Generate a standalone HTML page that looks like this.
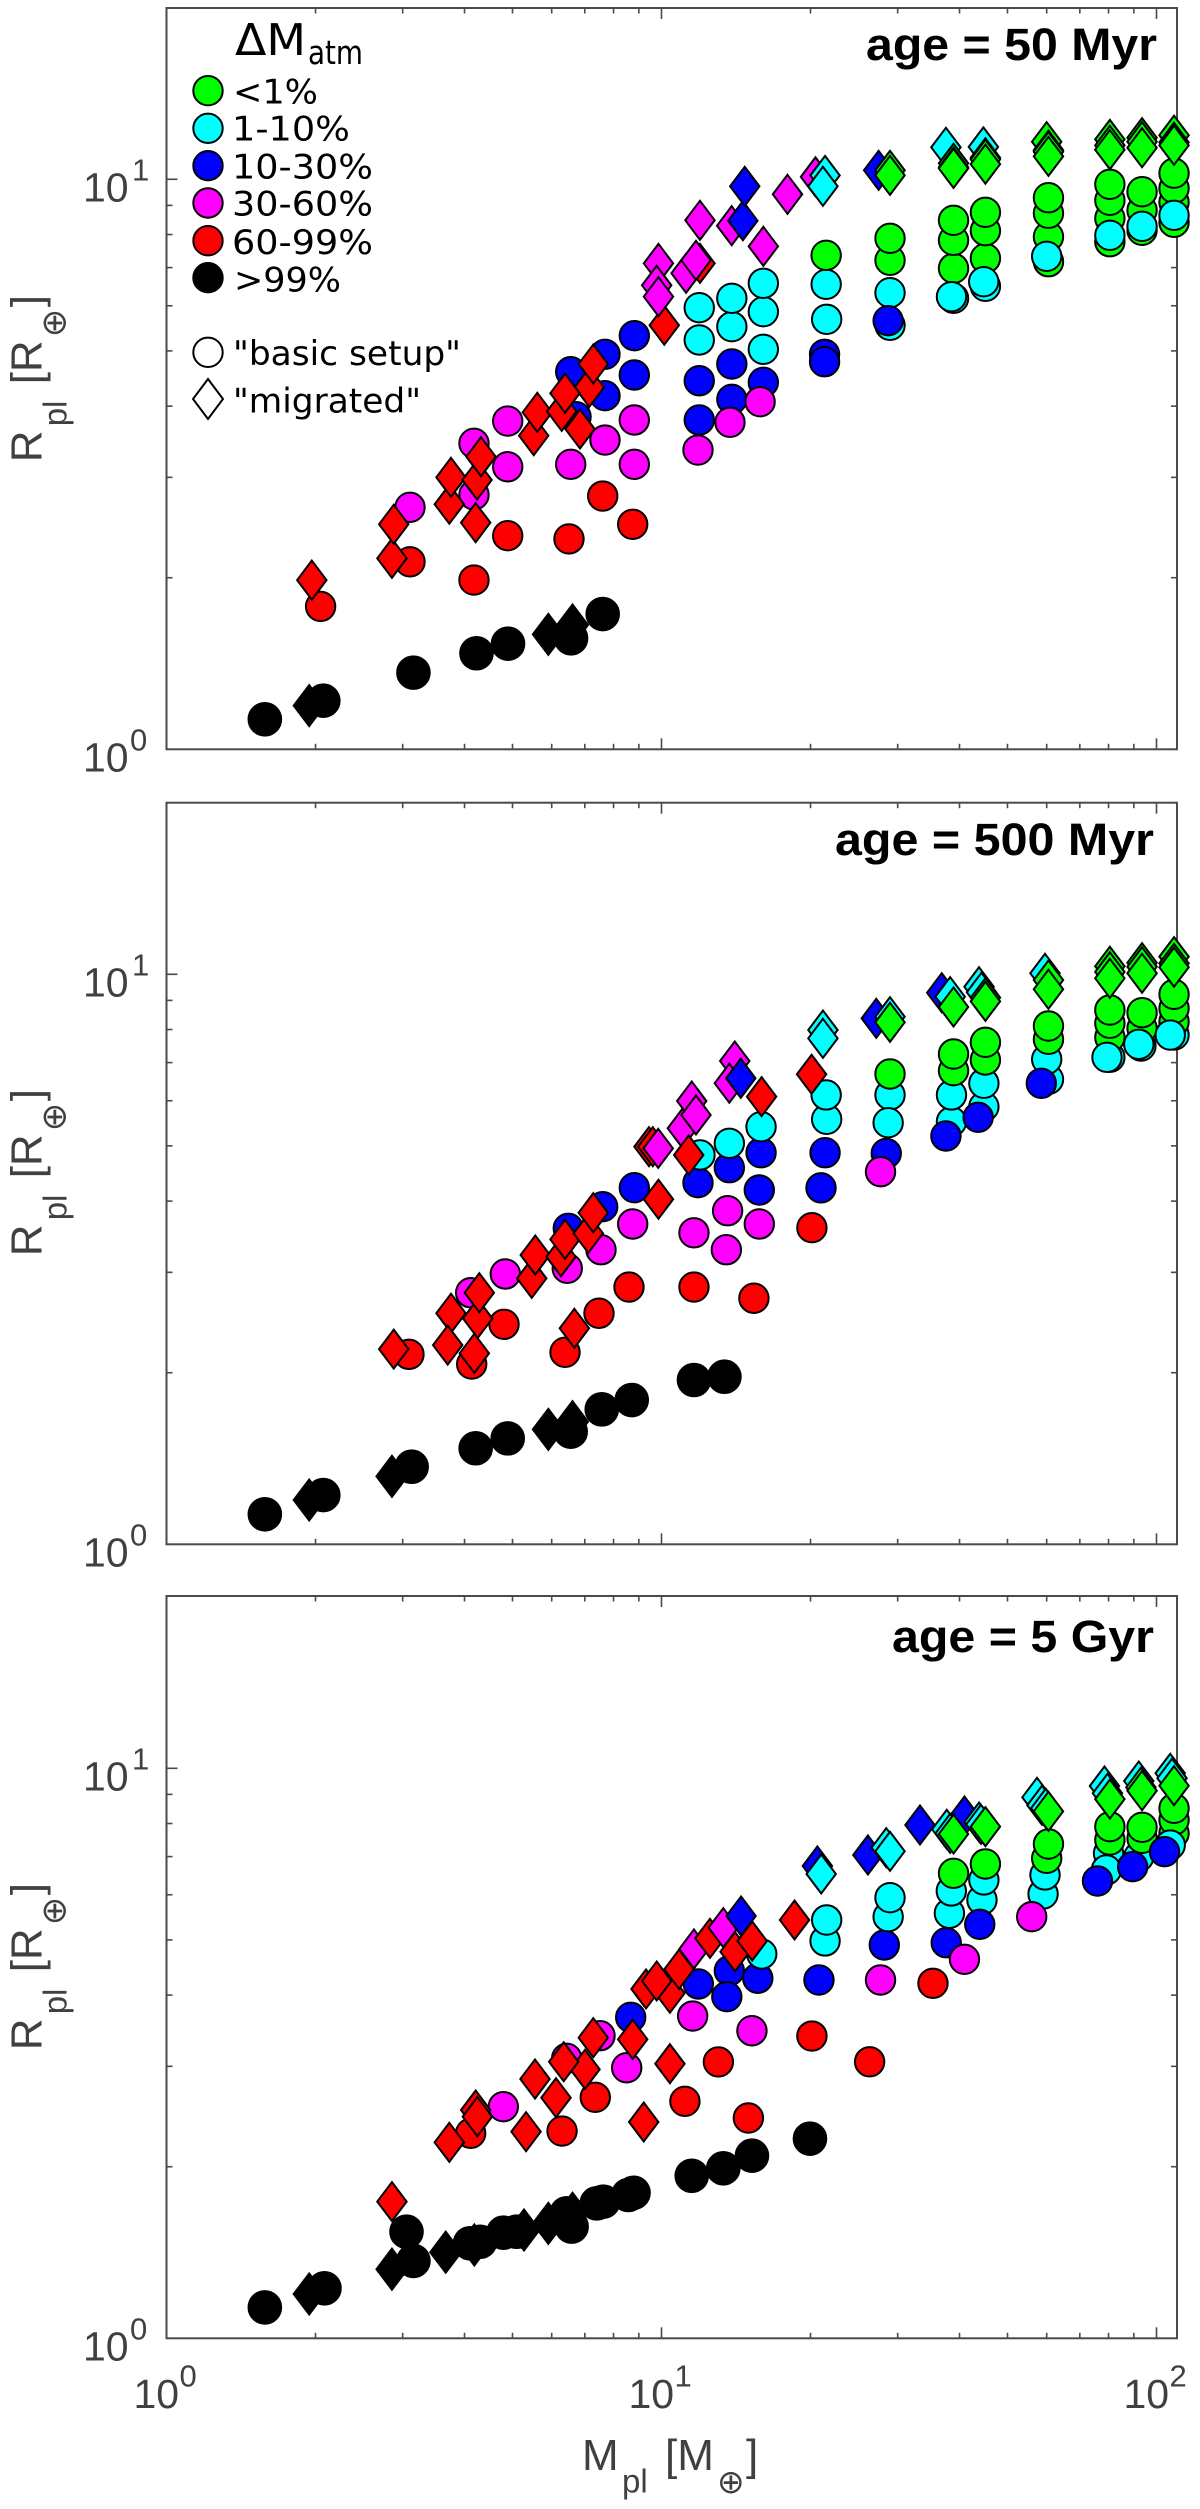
<!DOCTYPE html>
<html lang="en">
<head>
<meta charset="utf-8">
<title>Planet mass-radius at three ages</title>
<style>
html,body{margin:0;padding:0;background:#fff;}
svg{display:block;}
.ax{font-family:"Liberation Sans",sans-serif;fill:#404040;}
.lg{font-family:"DejaVu Sans",sans-serif;fill:#000;}
.age{font-family:"Liberation Sans",sans-serif;font-weight:bold;fill:#000;}
.sym{font-family:"DejaVu Sans",sans-serif;fill:#404040;}
</style>
</head>
<body>
<svg id="chart" xmlns="http://www.w3.org/2000/svg" width="1200" height="2509" viewBox="0 0 1200 2509">
  <g id="layer-axes"></g>
  <g id="layer-marks"></g>

  <text class="age" x="866" y="60" font-size="45" textLength="291" lengthAdjust="spacingAndGlyphs">age = 50 Myr</text>
  <text class="age" x="835" y="855" font-size="45" textLength="319" lengthAdjust="spacingAndGlyphs">age = 500 Myr</text>
  <text class="age" x="892" y="1652" font-size="45" textLength="262" lengthAdjust="spacingAndGlyphs">age = 5 Gyr</text>

  <g transform="translate(41.3,459.3) rotate(-90)">
    <text class="ax" x="-3" y="0" font-size="44">R</text>
    <text class="ax" x="33" y="25" font-size="33">pl</text>
    <text class="ax" x="75" y="0" font-size="44">[R</text>
    <text class="sym" x="122" y="24" font-size="34">⊕</text>
    <text class="ax" x="152" y="0" font-size="44">]</text>
  </g>
  <g transform="translate(41.3,1253.3) rotate(-90)">
    <text class="ax" x="-3" y="0" font-size="44">R</text>
    <text class="ax" x="33" y="25" font-size="33">pl</text>
    <text class="ax" x="75" y="0" font-size="44">[R</text>
    <text class="sym" x="122" y="24" font-size="34">⊕</text>
    <text class="ax" x="152" y="0" font-size="44">]</text>
  </g>
  <g transform="translate(41.3,2047.3) rotate(-90)">
    <text class="ax" x="-3" y="0" font-size="44">R</text>
    <text class="ax" x="33" y="25" font-size="33">pl</text>
    <text class="ax" x="75" y="0" font-size="44">[R</text>
    <text class="sym" x="122" y="24" font-size="34">⊕</text>
    <text class="ax" x="152" y="0" font-size="44">]</text>
  </g>
  <g>
    <text class="ax" x="582" y="2470" font-size="44">M</text>
    <text class="ax" x="622" y="2492.7" font-size="33">pl</text>
    <text class="ax" x="665" y="2470" font-size="44">[M</text>
    <text class="sym" x="717" y="2493" font-size="33">⊕</text>
    <text class="ax" x="746" y="2470" font-size="44">]</text>
  </g>

  <g>
    <text class="lg" x="235" y="55" font-size="44" textLength="71" lengthAdjust="spacingAndGlyphs">ΔM</text>
    <text class="lg" x="308" y="64" font-size="33" textLength="55" lengthAdjust="spacingAndGlyphs">atm</text>

    <circle cx="208" cy="90.7" r="14.7" fill="#00ff00" stroke="#000" stroke-width="2"/>
    <text class="lg" x="233" y="103.3" font-size="34" textLength="85" lengthAdjust="spacingAndGlyphs">&lt;1%</text>
    <circle cx="208" cy="128.3" r="14.7" fill="#00ffff" stroke="#000" stroke-width="2"/>
    <text class="lg" x="232" y="140.5" font-size="34" textLength="118" lengthAdjust="spacingAndGlyphs">1-10%</text>
    <circle cx="208" cy="165.7" r="14.7" fill="#0000ff" stroke="#000" stroke-width="2"/>
    <text class="lg" x="232" y="178.3" font-size="34" textLength="141" lengthAdjust="spacingAndGlyphs">10-30%</text>
    <circle cx="208" cy="203" r="14.7" fill="#ff00ff" stroke="#000" stroke-width="2"/>
    <text class="lg" x="232" y="215.5" font-size="34" textLength="141" lengthAdjust="spacingAndGlyphs">30-60%</text>
    <circle cx="208" cy="240.7" r="14.7" fill="#ff0000" stroke="#000" stroke-width="2"/>
    <text class="lg" x="232" y="254" font-size="34" textLength="141" lengthAdjust="spacingAndGlyphs">60-99%</text>
    <circle cx="208" cy="277.7" r="14.7" fill="#000000" stroke="#000" stroke-width="2"/>
    <text class="lg" x="234" y="291.7" font-size="34" textLength="107" lengthAdjust="spacingAndGlyphs">&gt;99%</text>

    <circle cx="208" cy="352.3" r="14.7" fill="#fff" stroke="#000" stroke-width="2"/>
    <text class="lg" x="233" y="365" font-size="34" textLength="228" lengthAdjust="spacingAndGlyphs">"basic setup"</text>
    <polygon points="208,379 223,399 208,419 193,399" fill="#fff" stroke="#000" stroke-width="2"/>
    <text class="lg" x="233" y="412.7" font-size="34" textLength="188" lengthAdjust="spacingAndGlyphs">"migrated"</text>
  </g>
</svg>

<script>
// Category colours, index = atmospheric mass-loss class (<1, 1-10, 10-30, 30-60, 60-99, >99 %)
const classColors = ['#00ff00', '#00ffff', '#0000ff', '#ff00ff', '#ff0000', '#000000'];
const classKeys = ['under-1', '1-10', '10-30', '30-60', '60-99', 'over-99'];

const xDomain = [1, 110];
const yDomain = [1, 20];
const xMajorTicks = [1, 10, 100];
const xMajorExponents = ['0', '1', '2'];
const yMajorTicks = [1, 10];
const yMajorExponents = ['0', '1'];
const tickBase = ['10'];
const panelKeys = ['50-myr', '500-myr', '5-gyr'];

// age = 50 Myr, basic setup
const mass50Basic = [
 1.58,2.074,3.154,4.229,4.897,6.565,7.607,
 2.048,3.104,4.18,4.89,6.503,7.607,8.746,
 3.104,4.18,4.18,4.89,4.89,6.555,7.688,8.812,8.812,
 6.555,6.72,7.688,7.688,8.812,8.812,11.92,11.92,13.87,13.87,16.06,
 11.85,13.75,15.82,
 11.92,11.92,13.87,13.87,16.06,16.06,16.06,
 21.56,21.51,21.51,21.35,21.35,
 28.95,28.95,28.95,28.95,28.7,
 38.9,38.9,38.9,38.9,38.53,
 45.12,45.12,45.12,45.12,44.76,
 60.5,60.5,60.5,60.5,60,
 80.5,80.5,80.5,80.5,80.5,
 93.5,93.5,93.5,93.5,
 108.5,108.5,108.5,108.5,108.5];
const radius50Basic = [
 1.129,1.217,1.363,1.474,1.532,1.566,1.727,
 1.781,2.133,1.981,2.37,2.339,2.782,2.482,
 2.658,3.442,2.795,3.766,3.131,3.162,3.488,3.782,3.162,
 4.597,3.832,4.932,4.172,5.317,4.536,4.432,3.782,4.742,4.112,4.404,
 3.35,3.747,4.072,
 5.225,5.953,5.514,6.184,5.032,5.858,6.57,
 5.681,6.543,7.356,4.932,4.786,
 5.545,6.325,7.209,7.879,5.649,
 6.184,6.981,7.816,8.474,6.224,
 6.491,7.267,8.125,8.752,6.613,
 7.168,7.93,8.717,9.283,7.327,
 7.771,8.543,9.186,9.8,7.975,
 8.139,8.823,9.511,8.27,
 8.405,9.113,9.643,10.25,8.647];
const class50Basic = [
 5,5,5,5,5,5,5,
 4,4,4,4,4,4,4,
 3,3,3,3,3,3,3,3,3,
 2,2,2,2,2,2,2,2,2,2,2,
 3,3,3,
 1,1,1,1,1,1,1,
 1,1,0,2,2,
 1,1,0,0,2,
 1,0,0,0,1,
 1,0,0,0,1,
 0,0,0,0,1,
 0,0,0,0,1,
 0,0,0,1,
 0,0,0,0,1];

// age = 50 Myr, migrated
const mass50Migrated = [
 1.942,5.907,6.61,
 1.966,2.854,2.878,3.727,3.756,4.213,4.24,4.319,5.519,5.612,
 7.147,7.281,6.287,6.384,6.845,10.13,11.96,
 11.21,11.74,9.86,9.779,9.86,11.96,13.86,14.6,14.73,16.06,17.97,
 20.47,21.4,21.19,
 27.46,28.95,28.95,
 37.55,38.9,38.9,38.9,
 44.7,45.12,45.12,45.12,
 60,60.5,60.5,60.5,
 80.5,80.5,80.5,
 93.5,93.5,93.5,
 108.5,108.5,108.5];
const radius50Migrated = [
 1.193,1.591,1.652,
 1.981,2.163,2.482,2.691,3.0,2.498,2.968,3.261,3.55,3.901,
 4.316,4.742,3.917,4.213,3.647,5.545,7.121,
 6.841,7.209,7.121,6.517,6.224,8.474,8.291,8.46,9.721,7.628,9.412,
 10.1,10.16,9.721,
 10.37,10.37,10.16,
 11.38,10.67,10.5,10.45,
 11.4,10.91,10.84,10.63,
 11.64,11.25,11.18,10.97,
 11.75,11.47,11.27,
 11.83,11.64,11.36,
 11.95,11.61,11.47];
const class50Migrated = [
 5,5,5,
 4,4,4,4,4,4,4,4,4,4,
 4,4,4,4,4,4,4,
 3,3,3,3,3,3,3,2,2,3,3,
 3,1,1,
 2,0,0,
 1,0,0,0,
 1,0,0,0,
 0,0,0,0,
 0,0,0,
 0,0,0,
 0,0,0];

// age = 500 Myr, basic setup
const mass500Basic = [
 1.58,2.074,3.128,4.213,4.89,6.555,7.573,8.706,11.63,13.4,
 3.089,4.136,4.807,6.384,7.477,8.597,11.63,15.37,20.13,
 4.116,4.836,6.451,7.547,8.746,11.63,13.52,13.6,15.76,
 6.482,7.607,8.812,11.85,13.71,15.89,15.76,21.4,21,28.45,
 27.7,
 11.96,13.71,15.89,21.56,21.51,28.95,28.7,28.95,
 38.53,38.53,38.9,38.9,37.55,
 44.8,44.8,45.12,45.12,43.62,
 60.5,60,60.5,60.5,58.52,
 80.5,80.5,80.5,80.5,79.43,
 93,93.5,93.5,92.1,
 108.5,108.5,108.5,108.5,106.6];
const radius500Basic = [
 1.129,1.22,1.368,1.474,1.534,1.576,1.725,1.791,1.942,1.968,
 2.154,2.071,2.432,2.172,2.543,2.827,2.827,2.702,3.593,
 2.763,2.98,3.049,3.287,3.647,3.52,3.287,3.848,3.647,
 3.584,3.911,4.223,4.309,4.578,4.864,4.184,4.864,4.22,4.85,
 4.505,
 4.82,5.053,5.403,5.567,6.142,6.142,5.491,6.685,
 5.514,6.142,6.775,7.247,5.204,
 5.858,6.439,7.074,7.598,5.612,
 6.543,7.094,7.69,8.115,6.439,
 7.151,7.752,8.203,8.657,7.151,
 7.485,8.04,8.563,7.536,
 7.825,8.257,8.717,9.224,7.825];
const class500Basic = [
 5,5,5,5,5,5,5,5,5,5,
 4,4,4,4,4,4,4,4,4,
 3,3,3,3,3,3,3,3,3,
 2,2,2,2,2,2,2,2,2,2,
 3,
 1,1,1,1,1,1,1,0,
 1,1,0,0,2,
 1,1,0,0,2,
 1,1,0,0,2,
 1,0,0,0,1,
 1,0,0,1,
 1,0,0,0,1];

// age = 500 Myr, migrated
const mass500Migrated = [
 1.942,2.854,5.907,6.61,
 2.878,4.253,3.756,4.285,3.699,4.187,5.468,5.559,6.266,6.384,7.114,7.281,6.668,9.86,
 9.435,9.603,9.848,
 11.51,11.02,11.74,11.35,
 14.06,13.71,14.46,15.93,20.1,
 21.19,21.19,
 27.16,28.95,28.95,
 36.83,38.3,38.9,
 43.8,44.3,45.12,45.12,
 59.53,60.5,60.5,
 80.5,80.5,80.5,
 93.5,93.5,93.5,
 108.5,108.5,108.5];
const radius500Migrated = [
 1.196,1.316,1.591,1.641,
 2.2,2.49,2.543,2.763,2.236,2.163,2.928,3.218,3.195,3.428,3.512,3.817,2.393,4.03,
 4.984,4.984,4.951,
 5.994,5.368,5.665,4.82,
 7.045,6.439,6.57,6.1,6.677,
 7.985,7.721,
 8.371,8.426,8.237,
 9.283,9.135,8.763,
 9.511,9.3,9.1,8.965,
 10.04,9.77,9.412,
 10.33,10.1,9.84,
 10.48,10.31,10.04,
 10.74,10.45,10.29];
const class500Migrated = [
 5,5,5,5,
 4,4,4,4,4,4,4,4,4,4,4,4,4,4,
 4,4,3,
 3,3,3,4,
 3,3,2,4,4,
 1,1,
 2,1,0,
 2,1,0,
 1,1,0,0,
 1,0,0,
 0,0,0,
 0,0,0,
 0,0,0];

// age = 5 Gyr, basic setup
const mass5GyrBasic = [
 1.58,2.085,3.154,3.054,4.103,4.3,4.791,5.1,6.583,6.434,7.397,7.627,8.569,8.78,11.51,13.33,15.23,19.95,
 4.116,6.296,7.349,11.15,13.03,14.98,20.13,26.33,35.35,
 4.791,6.434,7.512,8.505,11.56,15.23,
 8.665,11.87,13.71,13.55,15.65,20.8,28.19,
 15.94,21.4,21.56,28.7,28.95,
 27.7,
 38.16,38.5,38.9,37.6,40.93,
 44.4,44.8,45.12,43.95,
 59,59.53,60,60.5,55.96,
 80,80.5,80.5,79.2,76,
 92.1,93.5,93.5,89.5,
 108.5,108.5,108.5,106.6,103.8];
const radius5GyrBasic = [
 1.133,1.224,1.367,1.538,1.468,1.477,1.532,1.538,1.57,1.657,1.725,1.737,1.784,1.8,1.928,1.987,2.091,2.24,
 2.289,2.31,2.647,2.605,3.054,2.435,3.391,3.056,4.196,
 2.549,3.099,3.395,2.983,3.676,3.464,
 3.657,4.184,4.415,3.975,4.282,4.252,4.898,
 4.723,4.978,5.418,5.491,5.93,
 4.252,
 5.567,6.092,6.543,4.943,4.623,
 5.875,6.369,6.794,5.325,
 6.018,6.499,6.952,7.365,5.491,
 7.094,7.485,7.9,6.631,6.343,
 6.998,7.536,7.879,6.72,
 7.69,8.115,8.509,7.335,7.14];
const class5GyrBasic = [
 5,5,5,5,5,5,5,5,5,5,5,5,5,5,5,5,5,5,
 4,4,4,4,4,4,4,4,4,
 3,3,3,3,3,3,
 2,2,2,2,2,2,2,
 1,1,1,1,1,
 3,
 1,1,0,2,3,
 1,1,0,2,
 1,1,0,0,3,
 1,0,0,1,2,
 1,0,0,2,
 0,0,0,1,2];

// age = 5 Gyr, migrated
const mass5GyrMigrated = [
 1.942,2.854,3.665,4.187,5.275,5.907,6.61,
 2.854,3.727,4.213,4.247,5.325,6.122,5.552,7.006,6.345,7.281,8.746,10.4,9.206,
 9.304,10.4,9.779,10.85,11.63,12.53,13.33,14.48,14.08,15.25,18.57,
 20.65,21.02,
 26.12,28.45,28.95,
 33.28,40.93,37.7,38.3,38.9,
 43.8,44.2,45.12,
 57.36,58.7,59.75,60.5,
 78.5,79.6,80.5,
 92.1,93,93.5,
 106.6,107.5,108.5];
const radius5GyrMigrated = [
 1.196,1.322,1.416,1.458,1.549,1.591,1.657,
 1.737,2.207,2.515,2.448,2.304,2.643,2.85,2.964,3.056,3.368,3.346,3.032,2.396,
 4.1,4.03,4.235,4.44,4.82,5.032,5.253,5.507,4.767,4.978,5.418,
 6.74,6.525,
 7.046,7.256,7.151,
 7.953,8.247,7.816,7.69,7.669,
 8.05,7.975,7.9,
 8.894,8.612,8.509,8.405,
 9.31,9.039,8.83,
 9.498,9.26,9.135,
 9.8,9.604,9.321];
const class5GyrMigrated = [
 5,5,5,5,5,5,5,
 4,4,4,4,4,4,4,4,4,4,4,4,4,
 4,4,4,4,3,4,3,2,4,4,4,
 2,1,
 2,1,1,
 2,2,1,1,0,
 1,1,0,
 1,1,1,0,
 1,1,0,
 1,0,0,
 1,1,0];

const SVG_NS = 'http://www.w3.org/2000/svg';
const plotLeft = 166.5;
const xDecadePx = 495;
const yDecadePx = 570;
const plotRight = 166.5 + xDecadePx * Math.log10(xDomain[1] / xDomain[0]);

function xScale(m) {
  return plotLeft + xDecadePx * Math.log10(m / xDomain[0]);
}
function yScale(r, bottom) {
  return bottom - yDecadePx * Math.log10(r / yDomain[0]);
}
function make(tag, attrs, parent) {
  const el = document.createElementNS(SVG_NS, tag);
  for (const k in attrs) el.setAttribute(k, attrs[k]);
  parent.appendChild(el);
  return el;
}
function drawTick(group, x1, y1, x2, y2) {
  const el = make('line', {x1: x1, y1: y1, x2: x2, y2: y2, stroke: '#4a4a4a', 'stroke-width': 1.6}, group);
  
  
}
function drawPowerLabel(group, base, exp, x, y, expX, expY, name) {
  const b = make('text', {x: x, y: y, class: 'ax', 'font-size': 41}, group);
  b.textContent = base;
  
  
  const s = make('text', {x: expX, y: expY, class: 'ax', 'font-size': 31}, group);
  s.textContent = exp;
  
  
}
function drawAxes(parent, top, bottom, key, showXLabels) {
  const g = make('g', {}, parent);
  
  
  const frame = make('rect', {x: plotLeft, y: top, width: plotRight - plotLeft, height: bottom - top, fill: 'none', stroke: '#4a4a4a', 'stroke-width': 2}, g);
  
  
  // x ticks (log decades and minors), mirrored on top
  for (let d = 0; d < xMajorTicks.length; d++) {
    for (let k = 1; k <= 9; k++) {
      const v = xMajorTicks[d] * k;
      if (v <= xDomain[0] || v >= xDomain[1]) continue;
      const len = k === 1 ? 11 : 5.5;
      const x = xScale(v);
      drawTick(g, x, bottom, x, bottom - len);
      drawTick(g, x, top, x, top + len);
    }
  }
  // y ticks, mirrored on right
  for (let d = 0; d < yMajorTicks.length; d++) {
    for (let k = 1; k <= 9; k++) {
      const v = yMajorTicks[d] * k;
      if (v <= yDomain[0] || v >= yDomain[1]) continue;
      const len = k === 1 ? 11 : 6;
      const y = yScale(v, bottom);
      drawTick(g, plotLeft, y, plotLeft + len, y);
      drawTick(g, plotRight, y, plotRight - len, y);
    }
  }
  for (let i = 0; i < yMajorTicks.length; i++) {
    const y = yScale(yMajorTicks[i], bottom);
    const expX = yMajorExponents[i] === '1' ? 132 : 130;
    drawPowerLabel(g, tickBase[0], yMajorExponents[i], 83, y + 22.4, expX, y + 1, 'y-tick-label');
  }
  if (showXLabels) {
    for (let i = 0; i < xMajorTicks.length; i++) {
      const x = xScale(xMajorTicks[i]);
      drawPowerLabel(g, tickBase[0], xMajorExponents[i], x - 33, bottom + 69.7, x + 13, bottom + 48.4, 'x-tick-label');
    }
  }
}
function drawBasic(group, masses, radii, classes, bottom) {
  for (let i = 0; i < masses.length; i++) {
    const el = make('circle', {
      cx: xScale(masses[i]), cy: yScale(radii[i], bottom), r: classes[i] === 5 ? 16.3 : 14.7,
      fill: classColors[classes[i]], stroke: '#000', 'stroke-width': 2
    }, group);
    
    
  }
}
function drawMigrated(group, masses, radii, classes, bottom) {
  for (let i = 0; i < masses.length; i++) {
    const cx = xScale(masses[i]);
    const cy = yScale(radii[i], bottom);
    const hh = classes[i] === 5 ? 20.5 : 19.5;
    const hw = classes[i] === 5 ? 15.5 : 14.7;
    const pts = cx + ',' + (cy - hh) + ' ' + (cx + hw) + ',' + cy + ' ' + cx + ',' + (cy + hh) + ' ' + (cx - hw) + ',' + cy;
    const el = make('polygon', {
      points: pts, fill: classColors[classes[i]], stroke: '#000', 'stroke-width': 2
    }, group);
    
    
  }
}
const axesLayer = document.getElementById('layer-axes');
const marksLayer = document.getElementById('layer-marks');
function drawPanel(idx, top, bottom, mb, rb, cb, mm, rm, cm) {
  const key = panelKeys[idx];
  drawAxes(axesLayer, top, bottom, key, idx === 2);
  const g = make('g', {}, marksLayer);
  
  
  drawBasic(g, mb, rb, cb, bottom);
  drawMigrated(g, mm, rm, cm, bottom);
}
drawPanel(0, 8, 749.3, mass50Basic, radius50Basic, class50Basic, mass50Migrated, radius50Migrated, class50Migrated);
drawPanel(1, 802.7, 1544.3, mass500Basic, radius500Basic, class500Basic, mass500Migrated, radius500Migrated, class500Migrated);
drawPanel(2, 1596, 2338.3, mass5GyrBasic, radius5GyrBasic, class5GyrBasic, mass5GyrMigrated, radius5GyrMigrated, class5GyrMigrated);
</script>
</body>
</html>
